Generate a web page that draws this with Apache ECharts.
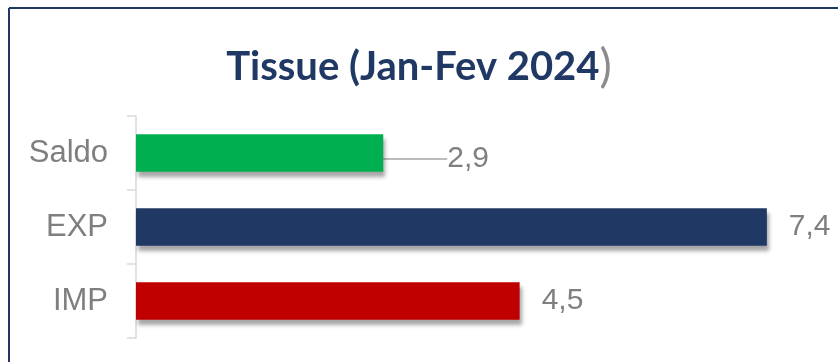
<!DOCTYPE html>
<html>
<head>
<meta charset="utf-8">
<script src="https://cdn.jsdelivr.net/npm/echarts@6/dist/echarts.min.js"></script>
<style>
  html, body { margin: 0; padding: 0; background: #ffffff; }
  #chart { width: 838px; height: 362px; }
</style>
</head>
<body>
<div id="chart"></div>
<script>
// Trade balance for tissue paper, Jan-Feb 2024
const categories = ['IMP', 'EXP', 'Saldo'];
const values = [4.5, 7.4, 2.9];
const barColors = ['#c00000', '#203864', '#00b050'];
const valueLabels = ['4,5', '7,4', '2,9'];

const chart = echarts.init(document.getElementById('chart'), null, { renderer: 'canvas' });

const labelFont = 'Liberation Sans';

const option = {
  backgroundColor: '#ffffff',
  animation: false,
  title: {
    text: '{t|Tissue (Jan-Fev 2024}{p|)}',
    left: 'center',
    top: 38,
    textStyle: {
      rich: {
        t: { fontFamily: 'Lato', fontWeight: 'bold', fontSize: 40, color: '#203864', lineHeight: 48 },
        p: { fontFamily: 'Lato', fontWeight: 'normal', fontSize: 46, color: '#8c8c8c', lineHeight: 48 }
      }
    }
  },
  graphic: [
    { type: 'line', shape: { x1: 9, y1: 8, x2: 838, y2: 8 }, style: { stroke: '#203864', lineWidth: 2 } },
    { type: 'line', shape: { x1: 9, y1: 8, x2: 9, y2: 362 }, style: { stroke: '#203864', lineWidth: 2 } }
  ],
  grid: { left: 136, top: 116, width: 682, height: 222, containLabel: false },
  xAxis: {
    type: 'value',
    min: 0,
    max: 8,
    show: false
  },
  yAxis: {
    type: 'category',
    data: categories,
    axisLine: { show: true, lineStyle: { color: '#d9d9d9', width: 1.5 } },
    axisTick: { show: true, length: 9, lineStyle: { color: '#d9d9d9', width: 1.5 } },
    axisLabel: {
      margin: 28,
      fontFamily: labelFont,
      fontSize: 31,
      color: '#7f7f7f'
    },
    splitLine: { show: false }
  },
  series: [{
    type: 'bar',
    barWidth: '51%',
    data: values.map((v, i) => ({
      value: v,
      itemStyle: {
        color: barColors[i],
        shadowColor: 'rgba(0,0,0,0.35)',
        shadowBlur: 4,
        shadowOffsetX: 2,
        shadowOffsetY: 5
      },
      labelLine: { show: categories[i] === 'Saldo' }
    })),
    label: {
      show: true,
      position: 'right',
      distance: 22,
      fontFamily: labelFont,
      fontSize: 30,
      color: '#7f7f7f',
      formatter: p => valueLabels[p.dataIndex]
    },
    labelLine: {
      lineStyle: { color: '#a6a6a6', width: 1.5 }
    },
    labelLayout: p => (categories[p.dataIndex] === 'Saldo' ? { dx: 42, dy: 6 } : {})
  }]
};

chart.setOption(option);
</script>
</body>
</html>
